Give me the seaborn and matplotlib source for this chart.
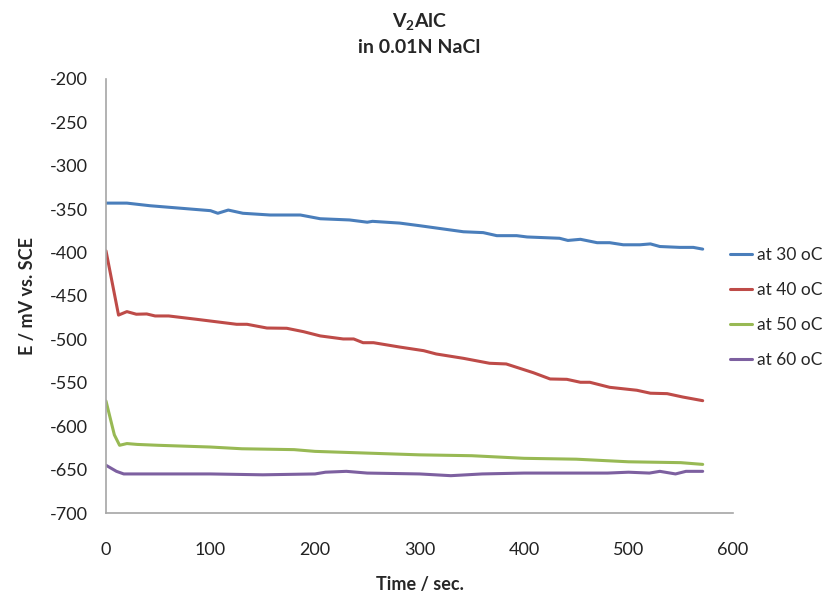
import numpy as np
import pandas as pd
import matplotlib
matplotlib.use("Agg")
import matplotlib.pyplot as plt
import seaborn as sns

# Open-circuit potential vs. time for V2AlC at four temperatures
t_30 = [0, 20, 42, 100, 107, 117, 131, 157, 186, 205, 233, 250, 255, 281, 300, 342, 361,
        374, 393, 403, 434, 442, 454, 470, 482, 495, 511, 521, 530, 549, 562, 571]
e_30 = [-343, -343, -346, -351.7, -354.7, -351, -354.7, -356.7, -356.7, -361, -362.4, -365,
        -364, -366, -369, -376, -377, -380.5, -380.5, -382, -383.5, -386, -384.7, -388.6,
        -388.6, -391, -391, -390, -393, -394, -394, -396]

t_40 = [0, 12, 20, 29, 39, 47, 60, 87, 125, 135, 154, 173, 189, 205, 227, 237, 246, 256,
        281, 304, 316, 342, 367, 383, 409, 425, 441, 454, 463, 482, 508, 521, 537, 552, 571]
e_40 = [-398, -472, -468, -471, -470.7, -473, -473, -476.9, -482.6, -482.6, -486.9, -487.2,
        -491.1, -496, -499.5, -499.5, -503.8, -503.8, -508.8, -513, -516.8, -521.8, -527.5,
        -528.3, -538.4, -545.6, -546, -549.4, -549.4, -555.2, -558.6, -562, -562.5, -566.4,
        -570.6]

t_50 = [0, 8, 13, 20, 30, 50, 100, 130, 180, 200, 250, 300, 350, 400, 450, 500, 550, 571]
e_50 = [-571, -610, -622, -620, -621, -622, -624, -626, -627, -629, -631, -633, -634, -637,
        -638, -641, -642, -644]

t_60 = [0, 10, 17, 50, 100, 150, 200, 210, 230, 250, 300, 330, 360, 400, 480, 500, 520,
        530, 545, 555, 571]
e_60 = [-645, -652, -655, -655, -655, -656, -655, -653, -652, -654, -655, -657, -655, -654,
        -654, -653, -654, -652, -655, -652, -652]

series_names = ["at 30 oC", "at 40 oC", "at 50 oC", "at 60 oC"]
series_colors = ["#4A7EBB", "#BE4B48", "#98B954", "#7D60A0"]

frames = []
for name, t, e in zip(series_names, [t_30, t_40, t_50, t_60], [e_30, e_40, e_50, e_60]):
    frames.append(pd.DataFrame({"time": t, "E": e, "series": name}))
df = pd.concat(frames, ignore_index=True)

sns.set_style("white")
plt.rcParams["font.family"] = ["Lato", "DejaVu Sans"]
plt.rcParams["mathtext.default"] = "regular"
plt.rcParams["axes.unicode_minus"] = False

fig = plt.figure(figsize=(8.32, 5.97), dpi=100)
ax = fig.add_axes([0.1274, 0.1407, 0.7536, 0.7270])

sns.lineplot(data=df, x="time", y="E", hue="series", hue_order=series_names,
             palette=series_colors, linewidth=2.2, sort=False, estimator=None, ax=ax)

ax.set_xlim(0, 600)
ax.set_ylim(-700, -200)
ax.set_xticks(np.arange(0, 601, 100))
ax.set_yticks(np.arange(-700, -199, 50))
ax.tick_params(axis="both", length=0, labelsize=13, colors="#222222")
ax.tick_params(axis="y", pad=13)
ax.tick_params(axis="x", pad=21)

for side in ["top", "right"]:
    ax.spines[side].set_visible(False)
for side in ["left", "bottom"]:
    ax.spines[side].set_color("#A6A6A6")
    ax.spines[side].set_linewidth(1.2)

ax.set_xlabel("Time / sec.", fontsize=13, fontweight="bold", labelpad=13)
ax.set_ylabel("E / mV vs. SCE", fontsize=13, fontweight="bold", labelpad=10)
ax.set_title("V$_2$AlC\nin 0.01N NaCl", fontsize=14, fontweight="bold",
             linespacing=1.5, pad=19)

leg = ax.legend(loc="center left", bbox_to_anchor=(0.995, 0.4735), frameon=False,
                fontsize=12.5, handlelength=1.3, handletextpad=0.25, labelspacing=1.08,
                borderaxespad=0.0, borderpad=0.0)

fig.savefig("out.png", dpi=100)
